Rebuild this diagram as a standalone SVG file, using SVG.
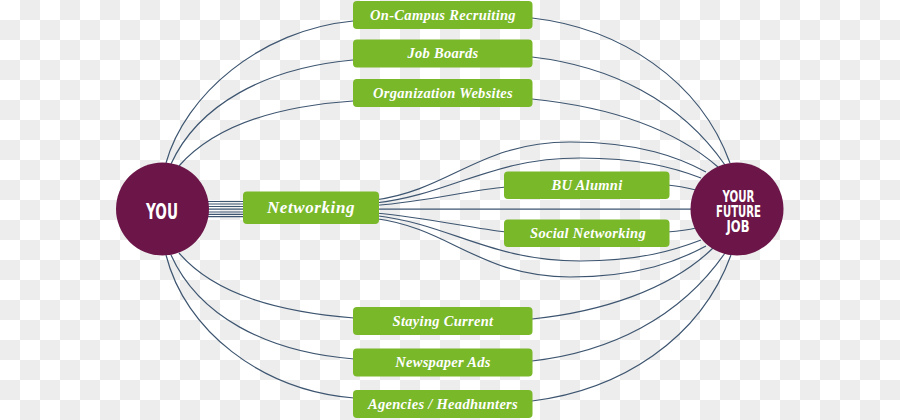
<svg xmlns="http://www.w3.org/2000/svg" width="900" height="420" viewBox="0 0 900 420">
<defs>
<pattern id="checker" x="0" y="0" width="40" height="40" patternUnits="userSpaceOnUse">
<rect x="0" y="0" width="40" height="40" fill="#ffffff"/>
<rect x="20" y="0" width="20" height="20" fill="#ededed"/>
<rect x="0" y="20" width="20" height="20" fill="#ededed"/>
</pattern>
</defs>
<style>
.line{fill:none;stroke:#3d5570;stroke-width:1.2}
.box{fill:#79b829}
.lbl{font-family:"Liberation Serif","Times New Roman",serif;font-weight:bold;font-style:italic;fill:#ffffff;text-anchor:middle;font-size:14.5px;letter-spacing:0.3px}
.circ{fill:#6b1548}
.ctext{font-family:"Liberation Sans Narrow","DejaVu Sans Condensed","Liberation Sans",sans-serif;font-weight:bold;fill:#ffffff;text-anchor:middle}
</style>
<rect x="0" y="0" width="900" height="420" fill="url(#checker)"/>
<g id="connectors">
<path class="line" d="M166,163 C185,95 260,30 353,21"/>
<path class="line" d="M171,164 C198,105 265,68 353,60"/>
<path class="line" d="M179,166 C215,125 280,106 353,101"/>
<path class="line" d="M532,18 C620,28 700,80 730,163"/>
<path class="line" d="M532,57 C610,66 680,100 725,165"/>
<path class="line" d="M532,99 C600,106 670,125 718,167"/>
<path class="line" d="M179,253 C215,295 280,312 354,318"/>
<path class="line" d="M171,255 C198,315 265,352 354,359"/>
<path class="line" d="M166,255 C185,330 260,390 354,398"/>
<path class="line" d="M532,319 C600,312 670,290 713,248"/>
<path class="line" d="M532,361 C610,352 680,318 725,253"/>
<path class="line" d="M532,401 C620,390 700,340 731,255"/>
<path class="line" d="M205,201.5 H250"/>
<path class="line" d="M205,204 H250"/>
<path class="line" d="M205,206.5 H250"/>
<path class="line" d="M205,209.2 H250"/>
<path class="line" d="M205,212 H250"/>
<path class="line" d="M205,214.3 H250"/>
<path class="line" d="M205,216.7 H250"/>
<path class="line" d="M375,200 C450,190 480,142 570,142 C640,142 680,158 706,172"/>
<path class="line" d="M375,203 C450,195 490,158 580,158 C640,158 675,168 701,178"/>
<path class="line" d="M375,205.5 C430,201 470,190 506,187"/>
<path class="line" d="M375,209.2 H692"/>
<path class="line" d="M375,213 C430,218 470,228 506,232"/>
<path class="line" d="M375,215.5 C450,224 490,261 580,261 C640,261 675,250 701,240"/>
<path class="line" d="M375,218.5 C450,228 480,277 570,277 C640,277 680,260 706,246"/>
<path class="line" d="M667,185 C680,186 688,188 696,190"/>
<path class="line" d="M667,232 C680,231 688,230 696,228"/>
</g>
<g id="you">
<circle class="circ" cx="162.5" cy="209" r="46.5"/>
<text class="ctext" x="162" y="218.5" font-size="21" textLength="32" lengthAdjust="spacingAndGlyphs">YOU</text>
</g>
<g id="future-job">
<circle class="circ" cx="737" cy="209" r="46.5"/>
<text class="ctext" x="738.5" y="201.5" font-size="15" textLength="32" lengthAdjust="spacingAndGlyphs">YOUR</text>
<text class="ctext" x="738.5" y="216.5" font-size="15" textLength="45" lengthAdjust="spacingAndGlyphs">FUTURE</text>
<text class="ctext" x="738" y="231.5" font-size="15" textLength="23" lengthAdjust="spacingAndGlyphs">JOB</text>
</g>
<g id="on-campus">
<rect class="box" x="353" y="1" width="179.5" height="28" rx="4"/>
<text class="lbl" x="443" y="19.5">On-Campus Recruiting</text>
</g>
<g id="job-boards">
<rect class="box" x="353" y="39.5" width="179.5" height="28" rx="4"/>
<text class="lbl" x="443" y="58">Job Boards</text>
</g>
<g id="org-websites">
<rect class="box" x="353" y="79" width="179.5" height="28" rx="4"/>
<text class="lbl" x="443" y="97.5">Organization Websites</text>
</g>
<g id="networking">
<rect class="box" x="243" y="191.5" width="136" height="32.5" rx="4"/>
<text class="lbl" x="311" y="213" style="font-size:17px;letter-spacing:0.6px">Networking</text>
</g>
<g id="bu-alumni">
<rect class="box" x="504" y="171.5" width="165.5" height="27.5" rx="4"/>
<text class="lbl" x="587" y="189.5">BU Alumni</text>
</g>
<g id="social-networking">
<rect class="box" x="504" y="219.5" width="165.5" height="27.5" rx="4"/>
<text class="lbl" x="588" y="237.5">Social Networking</text>
</g>
<g id="staying-current">
<rect class="box" x="353" y="307" width="179.5" height="28" rx="4"/>
<text class="lbl" x="443" y="325.5">Staying Current</text>
</g>
<g id="newspaper-ads">
<rect class="box" x="353" y="348.5" width="179.5" height="28" rx="4"/>
<text class="lbl" x="443" y="367">Newspaper Ads</text>
</g>
<g id="agencies">
<rect class="box" x="353" y="390" width="179.5" height="28" rx="4"/>
<text class="lbl" x="443" y="408.5">Agencies / Headhunters</text>
</g>
</svg>
